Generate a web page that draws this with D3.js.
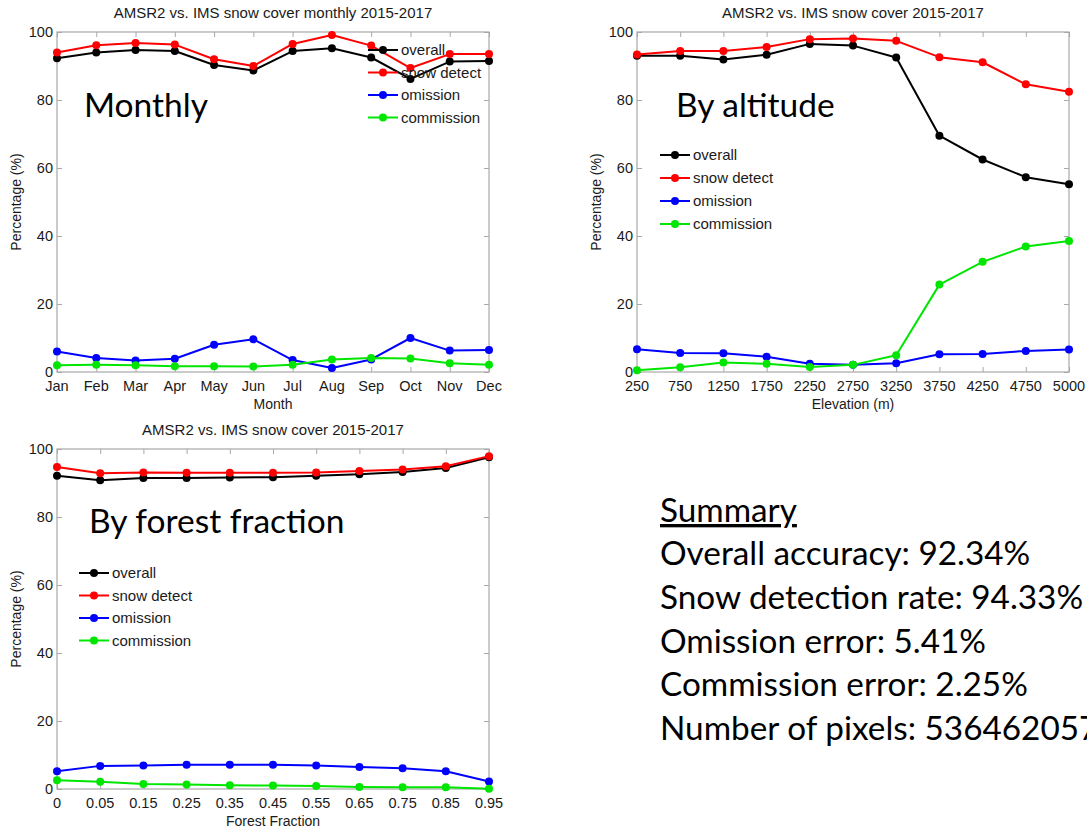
<!DOCTYPE html>
<html><head><meta charset="utf-8">
<script src="https://cdn.jsdelivr.net/npm/d3@7"></script>
<style>
html,body{margin:0;padding:0;background:#fff;overflow:hidden}
svg{display:block}
</style></head>
<body>
<script>
// ---------------- data ----------------
const seriesNames = ["overall", "snow detect", "omission", "commission"];
const seriesColors = ["#000000", "#ff0000", "#0000ff", "#00e600"];
const yTicks = [0, 20, 40, 60, 80, 100];

const months = ["Jan","Feb","Mar","Apr","May","Jun","Jul","Aug","Sep","Oct","Nov","Dec"];
const monthlyOverall    = [92.3, 94.0, 94.7, 94.4, 90.3, 88.7, 94.4, 95.2, 92.5, 86.2, 91.3, 91.5];
const monthlySnow       = [94.0, 96.1, 96.8, 96.3, 92.0, 90.0, 96.5, 99.1, 96.0, 89.4, 93.5, 93.5];
const monthlyOmission   = [6.0, 4.1, 3.4, 3.9, 8.0, 9.6, 3.5, 1.2, 3.7, 10.0, 6.3, 6.5];
const monthlyCommission = [2.0, 2.1, 2.0, 1.7, 1.7, 1.6, 2.1, 3.7, 4.1, 4.0, 2.6, 2.1];

const elevations = ["250","750","1250","1750","2250","2750","3250","3750","4250","4750","5000"];
const altOverall    = [93.0, 93.0, 91.9, 93.3, 96.5, 96.0, 92.5, 69.5, 62.5, 57.3, 55.2];
const altSnow       = [93.4, 94.4, 94.4, 95.6, 97.9, 98.1, 97.4, 92.6, 91.1, 84.6, 82.4];
const altOmission   = [6.7, 5.6, 5.5, 4.5, 2.4, 2.1, 2.6, 5.2, 5.3, 6.2, 6.6];
const altCommission = [0.5, 1.4, 2.8, 2.4, 1.5, 2.1, 4.9, 25.7, 32.4, 36.9, 38.5];

const forestFractions = ["0","0.05","0.15","0.25","0.35","0.45","0.55","0.65","0.75","0.85","0.95"];
const forestOverall    = [92.1, 90.8, 91.5, 91.5, 91.6, 91.7, 92.1, 92.6, 93.2, 94.4, 97.6];
const forestSnow       = [94.7, 92.9, 93.1, 93.0, 93.0, 93.0, 93.1, 93.5, 94.0, 94.9, 97.9];
const forestOmission   = [5.2, 6.8, 6.9, 7.1, 7.1, 7.1, 6.9, 6.5, 6.1, 5.2, 2.2];
const forestCommission = [2.6, 2.1, 1.5, 1.3, 1.1, 1.0, 0.9, 0.6, 0.5, 0.5, 0.1];

const summaryTitle = "Summary";
const summaryLines = [
  "Overall accuracy: 92.34%",
  "Snow detection rate: 94.33%",
  "Omission error: 5.41%",
  "Commission error: 2.25%",
  "Number of pixels: 536462057"
];

// ---------------- drawing ----------------
const W = 1087, H = 829;
const svg = d3.select("body").append("svg").attr("width", W).attr("height", H)
  .style("font-family", "'Liberation Sans', Arial, sans-serif");
svg.append("rect").attr("width", W).attr("height", H).attr("fill", "#fff");

const AXC = "#a8a8a8", TXT = "#1a1a1a";

function panel(cfg) {
  const g = svg.append("g");
  const x = d3.scalePoint().domain(cfg.cats).range([cfg.left, cfg.right]);
  const y = d3.scaleLinear().domain([0, 100]).range([cfg.bottom, cfg.top]);

  // ticks (inward) on all four sides
  const tl = 5;
  g.append("g").attr("transform", `translate(0,${cfg.bottom})`)
    .call(d3.axisBottom(x).tickSize(-tl).tickFormat(""))
    .call(s => s.select(".domain").remove())
    .selectAll("line").attr("stroke", AXC);
  g.append("g").attr("transform", `translate(0,${cfg.top})`)
    .call(d3.axisTop(x).tickSize(-tl).tickFormat(""))
    .call(s => s.select(".domain").remove())
    .selectAll("line").attr("stroke", AXC);
  g.append("g").attr("transform", `translate(${cfg.left},0)`)
    .call(d3.axisLeft(y).tickValues(yTicks).tickSize(-tl).tickFormat(""))
    .call(s => s.select(".domain").remove())
    .selectAll("line").attr("stroke", AXC);
  g.append("g").attr("transform", `translate(${cfg.right},0)`)
    .call(d3.axisRight(y).tickValues(yTicks).tickSize(-tl).tickFormat(""))
    .call(s => s.select(".domain").remove())
    .selectAll("line").attr("stroke", AXC);

  // frame
  g.append("rect").attr("x", cfg.left).attr("y", cfg.top)
    .attr("width", cfg.right - cfg.left).attr("height", cfg.bottom - cfg.top)
    .attr("fill", "none").attr("stroke", AXC).attr("stroke-width", 1.2);

  // tick labels
  g.selectAll(".xl").data(cfg.cats).join("text")
    .attr("x", d => x(d)).attr("y", cfg.bottom + 19)
    .attr("text-anchor", "middle").attr("font-size", 14.5).attr("fill", TXT)
    .text(d => d);
  g.selectAll(".yl").data(yTicks).join("text")
    .attr("x", cfg.left - 4).attr("y", d => y(d) + 5)
    .attr("text-anchor", "end").attr("font-size", 14.5).attr("fill", TXT)
    .text(d => d);

  // title, axis labels
  g.append("text").attr("x", (cfg.left + cfg.right) / 2).attr("y", cfg.top - 14)
    .attr("text-anchor", "middle").attr("font-size", 15).attr("fill", TXT).text(cfg.title);
  g.append("text").attr("x", (cfg.left + cfg.right) / 2).attr("y", cfg.bottom + 37)
    .attr("text-anchor", "middle").attr("font-size", 14).attr("fill", TXT).text(cfg.xlabel);
  g.append("text").attr("transform", `translate(${cfg.left - 36},${(cfg.top + cfg.bottom) / 2}) rotate(-90)`)
    .attr("text-anchor", "middle").attr("font-size", 14).attr("fill", TXT).text("Percentage (%)");

  // series lines + markers
  cfg.series.forEach((vals, i) => {
    const pts = vals.map((v, j) => [x(cfg.cats[j]), y(v)]);
    g.append("path").attr("d", d3.line()(pts)).attr("fill", "none")
      .attr("stroke", seriesColors[i]).attr("stroke-width", 2).attr("stroke-linejoin", "round");
    g.selectAll(null).data(pts).join("circle")
      .attr("cx", d => d[0]).attr("cy", d => d[1]).attr("r", 4)
      .attr("fill", seriesColors[i]);
  });

  // legend (no box)
  seriesNames.forEach((n, i) => {
    const ly = cfg.legY + i * cfg.legDy;
    g.append("line").attr("x1", cfg.legX).attr("x2", cfg.legX + 30)
      .attr("y1", ly).attr("y2", ly).attr("stroke", seriesColors[i]).attr("stroke-width", 2);
    g.append("circle").attr("cx", cfg.legX + 15).attr("cy", ly).attr("r", 4).attr("fill", seriesColors[i]);
    g.append("text").attr("x", cfg.legX + 33).attr("y", ly + 5)
      .attr("font-size", 15).attr("fill", TXT).text(n);
  });

  // big slide label
  g.append("text").attr("x", cfg.bigX).attr("y", cfg.bigY)
    .attr("font-family", "Lato, 'Open Sans', sans-serif").attr("font-size", 33.5)
    .attr("fill", "#000").text(cfg.big);
}

panel({cats: months, series: [monthlyOverall, monthlySnow, monthlyOmission, monthlyCommission],
  left: 57, right: 489, top: 32, bottom: 372,
  title: "AMSR2 vs. IMS snow cover monthly 2015-2017", xlabel: "Month",
  legX: 368, legY: 50, legDy: 22.5, big: "Monthly", bigX: 84, bigY: 117});

panel({cats: elevations, series: [altOverall, altSnow, altOmission, altCommission],
  left: 637, right: 1069, top: 32, bottom: 372,
  title: "AMSR2 vs. IMS snow cover 2015-2017", xlabel: "Elevation (m)",
  legX: 660, legY: 155, legDy: 23, big: "By altitude", bigX: 676, bigY: 117});

panel({cats: forestFractions, series: [forestOverall, forestSnow, forestOmission, forestCommission],
  left: 57, right: 489, top: 449, bottom: 789,
  title: "AMSR2 vs. IMS snow cover 2015-2017", xlabel: "Forest Fraction",
  legX: 79, legY: 573, legDy: 22.5, big: "By forest fraction", bigX: 89, bigY: 533});

// summary block
const sg = svg.append("g").attr("font-family", "Lato, 'Open Sans', sans-serif").attr("fill", "#000");
sg.append("text").attr("x", 660).attr("y", 522).attr("font-size", 33.3)
  .attr("text-decoration", "underline").text(summaryTitle);
sg.selectAll(".sl").data(summaryLines).join("text")
  .attr("x", 660).attr("y", (d, i) => 565 + i * 43.8).attr("font-size", 33.3).text(d => d);
</script>
</body></html>
